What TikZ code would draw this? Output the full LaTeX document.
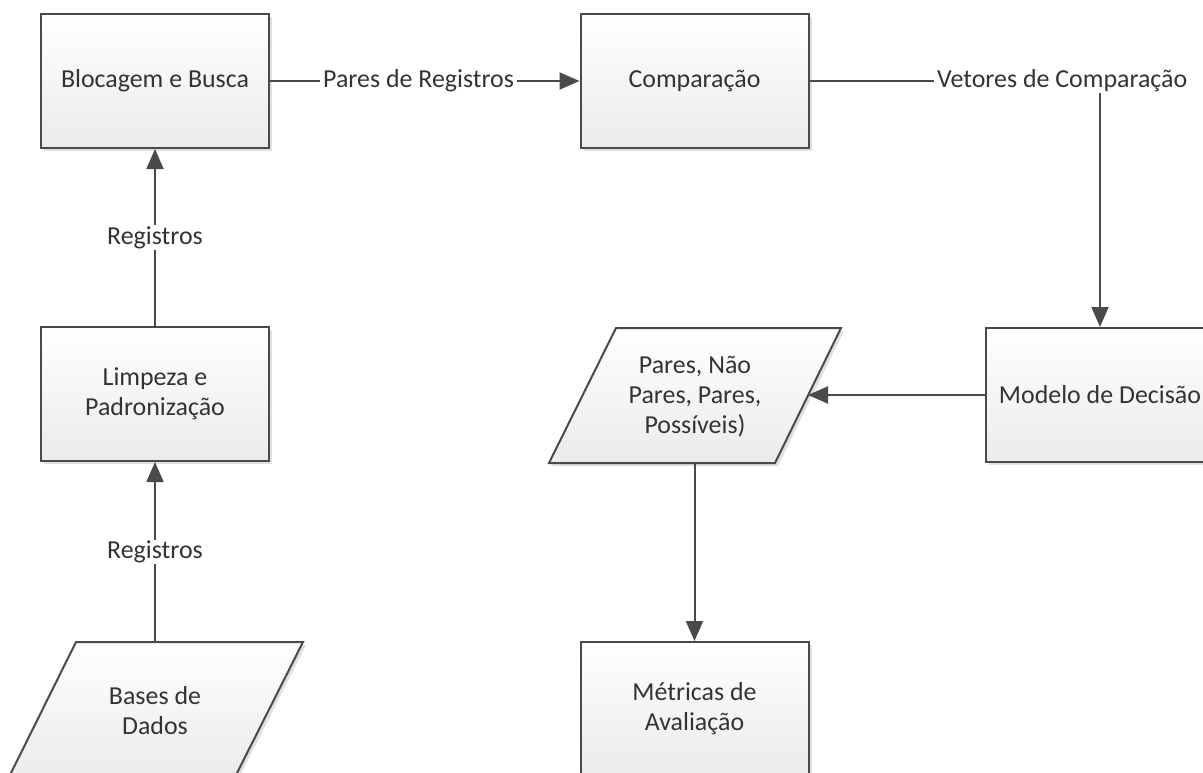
\documentclass[tikz,border=0pt]{standalone}
\usepackage{fontspec}
\setmainfont{Carlito}
\usetikzlibrary{arrows.meta,shadows,calc}
\definecolor{edge}{HTML}{4A4A4A}
\definecolor{ink}{HTML}{333333}
\definecolor{boxbottom}{HTML}{EBEBEB}
\tikzset{
  boxfill/.style={top color=white, bottom color=boxbottom,
    drop shadow={shadow xshift=3bp, shadow yshift=-3bp, fill=black, opacity=0.12}},
  flowbox/.style={boxfill, draw=edge, line width=2bp, minimum width=228bp,
    minimum height=134bp, inner sep=0pt, align=center, text=ink,
    font=\fontsize{26}{30}\selectfont},
  paraedge/.style={boxfill, draw=edge, line width=2bp, line join=miter},
  paratext/.style={inner sep=0pt, align=center, text=ink, font=\fontsize{26}{30}\selectfont},
  conn/.style={draw=edge, line width=2bp},
  arr/.style={conn, -{Triangle[length=20bp,width=17bp]}},
  lbl/.style={fill=white, inner xsep=3bp, inner ysep=1bp, text=ink,
    font=\fontsize{26}{30}\selectfont},
}
\begin{document}
\begin{tikzpicture}[x=1bp, y=-1bp]
  \useasboundingbox (0,0) rectangle (1203,773);
  \clip (0,0) rectangle (1203,773);

  % process boxes
  \node[flowbox] (bloc) at (155,81) {Blocagem e Busca};
  \node[flowbox] (comp) at (694.5,81) {Comparação};
  \node[flowbox] (limp) at (155,394) {Limpeza e\\Padronização};
  \node[flowbox] (modelo) at (1100,395) {Modelo de Decisão};
  \node[flowbox] (metr) at (694.5,709) {Métricas de\\Avaliação};

  % input / output parallelograms
  \path[paraedge] (616,328) -- (841,328) -- (775,463) -- (549,463) -- cycle;
  \node[paratext] (saida) at (695,397) {Pares, Não\\Pares, Pares,\\Possíveis)};
  \coordinate (saida-r) at (808,395);
  \coordinate (saida-b) at (694.5,463);

  \path[paraedge] (76,642) -- (303,642) -- (235,777) -- (9,777) -- cycle;
  \node[paratext] (bases) at (155,711) {Bases de\\Dados};
  \coordinate (bases-t) at (155,642);

  % connectors
  \draw[arr] (bases-t) -- (limp.south) node[midway, lbl] {Registros};
  \draw[arr] (limp.north) -- (bloc.south) node[midway, lbl] {Registros};
  \draw[arr] (bloc.east) -- (comp.west) node[pos=0.48, lbl] {Pares de Registros};
  \draw[arr] (comp.east) -| (modelo.north) node[pos=0.435, lbl] {Vetores de Comparação};
  \draw[arr] (modelo.west) -- (saida-r);
  \draw[arr] (saida-b) -- (metr.north);
\end{tikzpicture}
\end{document}
